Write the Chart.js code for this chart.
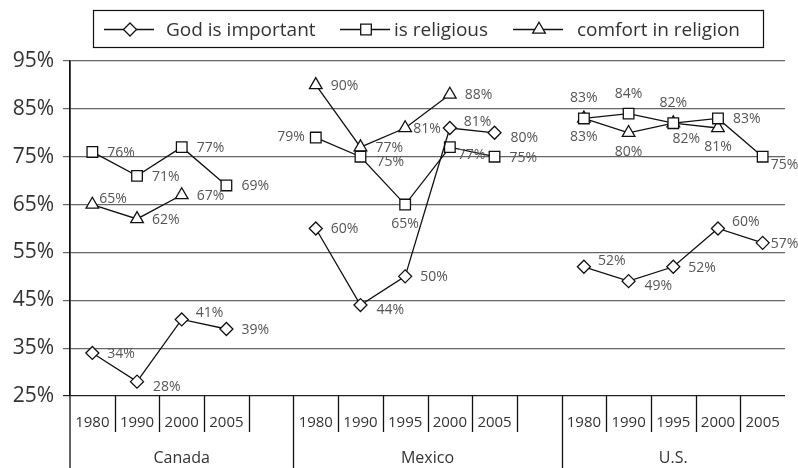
<!DOCTYPE html>
<html>
<head>
<meta charset="utf-8">
<script src="https://cdn.jsdelivr.net/npm/chart.js@4/dist/chart.umd.min.js"></script>
<style>
  html, body { margin: 0; padding: 0; background: #fff; }
  #wrap { width: 798px; height: 468px; }
</style>
</head>
<body>
<div id="wrap"><canvas id="religionChart" width="798" height="468"></canvas></div>
<script>
// x slots: each country block is followed by one empty slot
const yearLabels = [ '1980', '1990', '2000', '2005', '',
    '1980', '1990', '1995', '2000', '2005', '',
    '1980', '1990', '1995', '2000', '2005' ];
const countries = [ 'Canada', 'Mexico', 'U.S.' ];
const countryFirstSlot = [ 0, 5, 11 ];

// percentages
const godImportant = [ 34, 28, 41, 39, null, 60, 44, 50, 81, 80, null, 52, 49, 52, 60, 57 ];
const isReligious = [ 76, 71, 77, 69, null, 79, 75, 65, 77, 75, null, 83, 84, 82, 83, 75 ];
const comfortInReligion = [ 65, 62, 67, null, null, 90, 77, 81, 88, null, null, 83, 80, 82, 81, null ];

const yTicks = [ 25, 35, 45, 55, 65, 75, 85, 95 ];

// where each value label sits next to its marker
const godLabelPos = [ 'r', 'rd', 'ru', 'r', null, 'r', 'rd', 'r', 'ru', 'rd', null, 'ru', 'rd', 'r', 'ru', 'rn' ];
const religiousLabelPos = [ 'r', 'r', 'r', 'r', null, 'l', 'rd', 'b', 'rdn', 'r', null, 't', 't', 't', 'r', 'rdn' ];
const comfortLabelPos = [ 'run', 'r', 'r', null, null, 'r', 'r', 'rn', 'r', null, null, 'b', 'b', 'br', 'b', null ];

const FONT = '"Open Sans", "DejaVu Sans", sans-serif';
const INK = '#111';

const labelOffsets = {
    r: [ 15, 1, 'left' ],
    rn: [ 8, 1, 'left' ],
    ru: [ 14, -6, 'left' ],
    run: [ 7, -6, 'left' ],
    rd: [ 16, 5, 'left' ],
    rdn: [ 8, 8, 'left' ],
    l: [ -11, -1, 'right' ],
    t: [ 0, -20, 'center' ],
    b: [ 0, 19, 'center' ],
    br: [ 13, 16, 'center' ]
};

// value labels beside the markers
const valueLabels = {
    id: 'valueLabels',
    afterDatasetsDraw ( chart )
    {
        let ctx = chart.ctx;
        ctx.save();
        ctx.font = '14px ' + FONT;
        ctx.fillStyle = '#555';
        ctx.textBaseline = 'middle';
        chart.data.datasets.forEach( function ( ds, di )
        {
            let meta = chart.getDatasetMeta( di );
            meta.data.forEach( function ( pt, i )
            {
                let v = ds.data[ i ];
                let pos = ds.labelPos[ i ];
                if ( v === null || !pos ) return;
                let o = labelOffsets[ pos ];
                ctx.textAlign = o[ 2 ];
                ctx.fillText( Math.round( v ) + '%', pt.x + o[ 0 ], pt.y + o[ 1 ] );
            } );
        } );
        ctx.restore();
    }
};

function drawMarker ( ctx, style, x, y, r )
{
    ctx.beginPath();
    if ( style === 'rectRot' ) {
        ctx.moveTo( x, y - r ); ctx.lineTo( x + r, y ); ctx.lineTo( x, y + r ); ctx.lineTo( x - r, y );
    } else if ( style === 'rect' ) {
        let s = r * Math.SQRT1_2;
        ctx.rect( x - s, y - s, 2 * s, 2 * s );
    } else {
        ctx.moveTo( x, y - r );
        ctx.lineTo( x + r * 0.866, y + r * 0.5 );
        ctx.lineTo( x - r * 0.866, y + r * 0.5 );
    }
    ctx.closePath();
    ctx.fill();
    ctx.stroke();
}

// two-level category axis, axis extension and framed legend
const frame = {
    id: 'frame',
    afterDraw ( chart )
    {
        let ctx = chart.ctx;
        let area = chart.chartArea;
        let xs = chart.scales.x;
        let slotW = ( area.right - area.left ) / yearLabels.length;
        let base = area.bottom;
        ctx.save();
        ctx.strokeStyle = INK;
        ctx.lineWidth = 1.3;

        // y axis runs down through the category rows
        ctx.beginPath();
        ctx.moveTo( area.left, area.top );
        ctx.lineTo( area.left, chart.height );
        ctx.stroke();

        for ( let k = 1; k < yearLabels.length; k++ ) {
            let x = Math.round( area.left + k * slotW ) + 0.5;
            let full = countryFirstSlot.indexOf( k ) >= 0;
            ctx.beginPath();
            ctx.moveTo( x, base );
            ctx.lineTo( x, full ? chart.height : base + 36 );
            ctx.stroke();
        }

        ctx.fillStyle = '#333';
        ctx.textAlign = 'center';
        ctx.textBaseline = 'middle';
        ctx.font = '15px ' + FONT;
        yearLabels.forEach( function ( lab, i )
        {
            if ( lab ) ctx.fillText( lab, xs.getPixelForValue( i ), base + 27 );
        } );

        ctx.font = '16px ' + FONT;
        countries.forEach( function ( name, c )
        {
            let a = countryFirstSlot[ c ];
            let b = c + 1 < countries.length ? countryFirstSlot[ c + 1 ] : yearLabels.length;
            let cx = area.left + ( a + b ) / 2 * slotW;
            ctx.fillText( name, cx, base + 62 );
        } );

        // legend
        ctx.lineWidth = 1.2;
        ctx.strokeRect( 93.5, 10.5, 670, 37 );
        let items = [ [ 104, 166 ], [ 340, 394 ], [ 513, 577 ] ];
        ctx.font = '19px ' + FONT;
        ctx.textAlign = 'left';
        chart.data.datasets.forEach( function ( ds, di )
        {
            let x0 = items[ di ][ 0 ];
            let y = 29.5;
            ctx.lineWidth = 1.3;
            ctx.beginPath();
            ctx.moveTo( x0, y );
            ctx.lineTo( x0 + 50, y );
            ctx.stroke();
            ctx.fillStyle = '#fff';
            drawMarker( ctx, ds.pointStyle, x0 + 26, y, ds.pointRadius );
            ctx.fillStyle = '#333';
            ctx.fillText( ds.label, items[ di ][ 1 ], y + 1 );
        } );
        ctx.restore();
    }
};

function series ( label, data, style, radius, labelPos )
{
    return {
        label: label,
        data: data,
        labelPos: labelPos,
        borderColor: INK,
        borderWidth: 1.3,
        pointStyle: style,
        pointRadius: radius,
        pointBackgroundColor: '#fff',
        pointBorderColor: INK,
        pointBorderWidth: 1.3,
        tension: 0,
        spanGaps: false
    };
}

let ctx = document.getElementById( 'religionChart' ).getContext( '2d' );
let chart = new Chart( ctx, {
    type: 'line',
    data: {
        labels: yearLabels,
        datasets: [
            series( 'God is important', godImportant, 'rectRot', 6.5, godLabelPos ),
            series( 'is religious', isReligious, 'rect', 7.5, religiousLabelPos ),
            series( 'comfort in religion', comfortInReligion, 'triangle', 7.3, comfortLabelPos )
        ]
    },
    options: {
        responsive: false,
        animation: false,
        layout: { padding: { top: 61, right: 13, left: 0, bottom: 0 } },
        plugins: {
            legend: { display: false },
            tooltip: { enabled: false }
        },
        scales: {
            x: {
                type: 'category',
                offset: true,
                grid: { display: false },
                border: { display: false },
                ticks: { display: false },
                afterFit: function ( s ) { s.height = 72; }
            },
            y: {
                min: 25,
                max: 95,
                afterBuildTicks: function ( s ) { s.ticks = yTicks.map( v => ( { value: v } ) ); },
                ticks: {
                    callback: v => v + '%',
                    font: { family: FONT, size: 21 },
                    color: '#333',
                    padding: 9
                },
                grid: {
                    color: c => c.tick && c.tick.value === 25 ? '#222' : '#666',
                    lineWidth: 1.2,
                    tickLength: 7
                },
                border: { color: INK, width: 1.3 },
                afterFit: function ( s ) { s.width = 70; }
            }
        }
    },
    plugins: [ valueLabels, frame ]
} );
</script>
</body>
</html>
